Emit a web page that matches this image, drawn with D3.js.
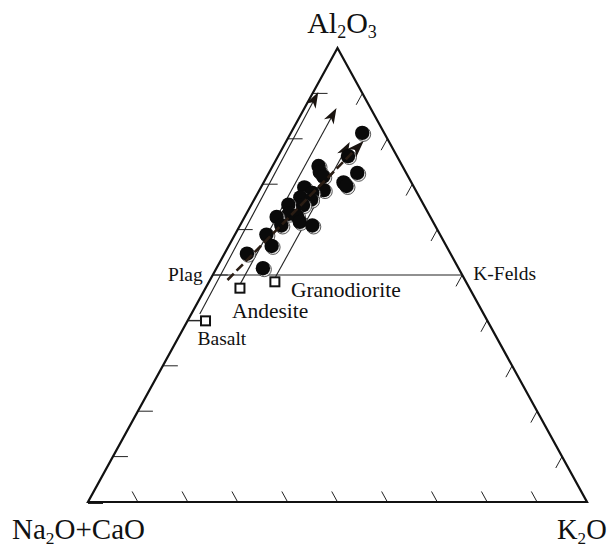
<!DOCTYPE html>
<html>
<head>
<meta charset="utf-8">
<script src="https://cdn.jsdelivr.net/npm/d3@7"></script>
<style>
  html, body { margin: 0; padding: 0; background: #fff; }
  svg { display: block; }
  text { font-family: "Liberation Serif", "Times New Roman", serif; fill: #111; }
</style>
</head>
<body>
<svg id="chart" width="611" height="550"></svg>
<script>
// A-CN-K ternary diagram: Al2O3 (apex), Na2O+CaO (left), K2O (right), molar %
const sampleAl2O3 = [81.3, 76.2, 72.5, 74.0, 72.7, 71.7, 70.4, 69.6, 69.3, 68.7, 68.1, 67.1, 66.6,
                     65.5, 65.4, 63.5, 62.8, 63.0, 61.7, 60.9, 60.9, 58.9, 56.4, 54.7, 51.5];
const sampleK2O   = [14.3, 14.0, 17.7, 9.2, 10.1, 11.3, 16.0, 17.0, 8.7, 12.9, 10.9, 9.0, 11.4,
                     7.4, 10.4, 8.5, 6.4, 10.4, 11.6, 14.5, 8.3, 6.3, 8.6, 4.5, 9.3];

// reference rock compositions
const rockNames = ["Basalt", "Andesite", "Granodiorite"];
const rockAl2O3 = [39.9, 47.1, 48.5];
const rockK2O   = [3.6, 6.9, 13.2];

// weathering trends: [Al2O3 start, K2O start, Al2O3 end, K2O end]
const trendSolid = [[41.4, 1.7, 90.3, 1.0], [48.1, 6.5, 86.8, 6.4], [49.6, 12.8, 79.3, 12.8]];
const trendDashed = [48.9, 3.5, 79.5, 15.5];

// feldspar join at Al2O3 = 50
const joinAl2O3 = 50;
const tickSteps = [10, 20, 30, 40, 50, 60, 70, 80, 90];

const svg = d3.select("#chart");

// vertical position follows Al2O3, horizontal follows K2O + Al2O3/2
const yScale = d3.scaleLinear().domain([0, 100]).range([502, 48]);
const xScale = d3.scaleLinear().domain([0, 100]).range([88, 587]);
const proj = (a, k) => [xScale(k + a / 2), yScale(a)];

const apex = proj(100, 0), left = proj(0, 0), right = proj(0, 100);

// ticks
const tickG = svg.append("g").attr("stroke", "#222").attr("stroke-width", 1);
const dirLeft = [left[0] - apex[0], left[1] - apex[1]];
const lenL = Math.hypot(dirLeft[0], dirLeft[1]);
const dirRight = [apex[0] - right[0], apex[1] - right[1]];
const lenR = Math.hypot(dirRight[0], dirRight[1]);
// left edge: horizontal ticks
[0].concat(tickSteps).forEach(v => {
  const p = proj(v, 0);
  tickG.append("line").attr("x1", p[0]).attr("y1", p[1] + (v === 0 ? 1.5 : 0))
    .attr("x2", p[0] + 15).attr("y2", p[1] + (v === 0 ? 1.5 : 0));
});
// right edge: ticks parallel to the A-CN side
tickSteps.forEach(v => {
  const p = proj(100 - v, v);
  tickG.append("line").attr("x1", p[0]).attr("y1", p[1])
    .attr("x2", p[0] + dirLeft[0] / lenL * 13).attr("y2", p[1] + dirLeft[1] / lenL * 13);
});
// base: ticks parallel to the A-K side
tickSteps.forEach(v => {
  const p = proj(0, v);
  tickG.append("line").attr("x1", p[0]).attr("y1", p[1])
    .attr("x2", p[0] + dirRight[0] / lenR * 12).attr("y2", p[1] + dirRight[1] / lenR * 12);
});

// triangle frame
svg.append("path")
  .attr("d", d3.line()([apex, left, right, apex]) + "Z")
  .attr("fill", "none").attr("stroke", "#111").attr("stroke-width", 2.2)
  .attr("stroke-linejoin", "miter");

// Plag - K-Felds join
const pl = proj(joinAl2O3, 0), kf = proj(joinAl2O3, 100 - joinAl2O3);
svg.append("line").attr("x1", pl[0]).attr("y1", pl[1]).attr("x2", kf[0]).attr("y2", kf[1])
  .attr("stroke", "#222").attr("stroke-width", 1.2);

// arrowhead helper
function arrowHead(g, tip, from, len, wid, color) {
  const dx = tip[0] - from[0], dy = tip[1] - from[1];
  const L = Math.hypot(dx, dy), ux = dx / L, uy = dy / L, nx = -uy, ny = ux;
  const bx = tip[0] - ux * len, by = tip[1] - uy * len;
  const nb = [tip[0] - ux * len * 0.72, tip[1] - uy * len * 0.72];
  g.append("path")
    .attr("d", `M${tip[0]},${tip[1]} L${bx + nx * wid / 2},${by + ny * wid / 2} L${nb[0]},${nb[1]} L${bx - nx * wid / 2},${by - ny * wid / 2} Z`)
    .attr("fill", color).attr("stroke", "none");
}

const trendG = svg.append("g");
trendSolid.forEach(t => {
  const s = proj(t[0], t[1]), e = proj(t[2], t[3]);
  const dx = e[0] - s[0], dy = e[1] - s[1], L = Math.hypot(dx, dy);
  trendG.append("line").attr("x1", s[0]).attr("y1", s[1])
    .attr("x2", e[0] - dx / L * 8).attr("y2", e[1] - dy / L * 8)
    .attr("stroke", "#222").attr("stroke-width", 1.1);
  arrowHead(trendG, e, s, 16, 11, "#1a1410");
});

// samples
const ptG = svg.append("g");
sampleAl2O3.forEach((a, i) => {
  const p = proj(a, sampleK2O[i]);
  ptG.append("circle").attr("cx", p[0] + 1.3).attr("cy", p[1] + 1.3).attr("r", 7.2)
    .attr("fill", "#e8e8e8").attr("stroke", "#333").attr("stroke-width", 0.8);
  ptG.append("circle").attr("cx", p[0]).attr("cy", p[1]).attr("r", 7.2).attr("fill", "#0a0a0a");
});

// sample trend (dashed)
{
  const s = proj(trendDashed[0], trendDashed[1]), e = proj(trendDashed[2], trendDashed[3]);
  const dx = e[0] - s[0], dy = e[1] - s[1], L = Math.hypot(dx, dy);
  svg.append("line").attr("x1", s[0]).attr("y1", s[1])
    .attr("x2", e[0] - dx / L * 10).attr("y2", e[1] - dy / L * 10)
    .attr("stroke", "#2a1d14").attr("stroke-width", 2.6).attr("stroke-dasharray", "9,4");
  arrowHead(svg, e, s, 17, 12, "#1a1410");
}

// rock composition squares
rockAl2O3.forEach((a, i) => {
  const p = proj(a, rockK2O[i]);
  svg.append("rect").attr("x", p[0] - 4.5).attr("y", p[1] - 4.5).attr("width", 9).attr("height", 9)
    .attr("fill", "#fff").attr("stroke", "#111").attr("stroke-width", 2);
});
// short tick joining basalt to the left side
{
  const p = proj(rockAl2O3[0], rockK2O[0]);
  svg.append("line").attr("x1", proj(rockAl2O3[0], 0)[0]).attr("y1", p[1])
    .attr("x2", p[0] - 4.5).attr("y2", p[1]).attr("stroke", "#222").attr("stroke-width", 1);
}

// labels
const lab = (txt, x, y, size, anchor) =>
  svg.append("text").attr("x", x).attr("y", y).attr("font-size", size)
    .attr("text-anchor", anchor || "start").text(txt);

const basaltP = proj(rockAl2O3[0], rockK2O[0]);
const andesP = proj(rockAl2O3[1], rockK2O[1]);
const granoP = proj(rockAl2O3[2], rockK2O[2]);
lab(rockNames[0], basaltP[0] - 8, basaltP[1] + 24, 19.5);
lab(rockNames[1], andesP[0] - 8, andesP[1] + 30, 21.5);
lab(rockNames[2], granoP[0] + 16, granoP[1] + 15, 21.5);
lab("Plag", pl[0] - 10, pl[1] + 6, 19.5, "end");
lab("K-Felds", kf[0] + 11, kf[1] + 5, 19.5);

// apex labels with subscripts
function formula(parts, x, y, size, anchor) {
  const t = svg.append("text").attr("x", x).attr("y", y).attr("font-size", size)
    .attr("text-anchor", anchor || "start");
  parts.forEach(pt => {
    if (pt.sub) {
      t.append("tspan").attr("font-size", size * 0.6).attr("dy", size * 0.16).text(pt.t);
    } else {
      t.append("tspan").attr("dy", pt.after ? -size * 0.16 : 0).text(pt.t);
    }
  });
  return t;
}
formula([{t: "Al"}, {t: "2", sub: true}, {t: "O", after: true}, {t: "3", sub: true}], 342, 33, 30, "middle");
formula([{t: "Na"}, {t: "2", sub: true}, {t: "O+CaO", after: true}], 12, 539, 29);
formula([{t: "K"}, {t: "2", sub: true}, {t: "O", after: true}], 557, 539, 28.5);
</script>
</body>
</html>
